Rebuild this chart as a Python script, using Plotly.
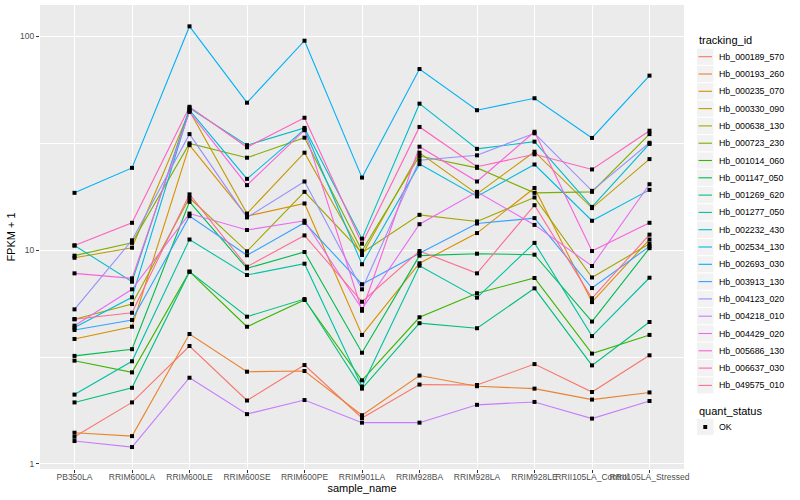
import plotly.graph_objects as go

samples = ["PB350LA", "RRIM600LA", "RRIM600LE", "RRIM600SE", "RRIM600PE", "RRIM901LA",
           "RRIM928BA", "RRIM928LA", "RRIM928LE", "RRII105LA_Control", "RRII105LA_Stressed"]

tracking_ids = ["Hb_000189_570", "Hb_000193_260", "Hb_000235_070", "Hb_000330_090", "Hb_000638_130",
                "Hb_000723_230", "Hb_001014_060", "Hb_001147_050", "Hb_001269_620", "Hb_001277_050",
                "Hb_002232_430", "Hb_002534_130", "Hb_002693_030", "Hb_003913_130", "Hb_004123_020",
                "Hb_004218_010", "Hb_004429_020", "Hb_005686_130", "Hb_006637_030", "Hb_049575_010"]

# FPKM + 1 per sample
hb_000189_570 = [1.34, 1.94, 3.56, 1.98, 2.90, 1.64, 2.35, 2.34, 2.93, 2.17, 3.22]
hb_000193_260 = [1.40, 1.35, 4.05, 2.70, 2.72, 1.69, 2.59, 2.31, 2.25, 2.00, 2.16]
hb_000235_070 = [3.84, 4.38, 30.9, 14.4, 16.5, 4.01, 8.67, 12.0, 19.5, 5.71, 11.2]
hb_000330_090 = [9.20, 10.25, 44.6, 14.8, 28.5, 9.48, 28.5, 18.3, 28.8, 15.7, 26.6]
hb_000638_130 = [4.75, 5.59, 17.5, 9.86, 18.7, 9.71, 14.6, 13.6, 17.6, 7.44, 10.7]
hb_000723_230 = [9.41, 10.8, 31.5, 27.0, 33.5, 9.92, 27.5, 24.2, 18.5, 18.7, 34.8]
hb_001014_060 = [3.04, 2.68, 7.92, 4.38, 5.84, 2.46, 4.85, 6.28, 7.40, 3.28, 4.01]
hb_001147_050 = [3.20, 3.44, 16.8, 8.21, 9.79, 3.31, 9.41, 9.61, 9.51, 4.63, 10.2]
hb_001269_620 = [1.94, 2.27, 7.92, 4.88, 5.90, 2.25, 4.55, 4.31, 6.62, 2.89, 4.61]
hb_001277_050 = [2.11, 3.02, 11.2, 7.64, 8.63, 2.30, 8.45, 5.99, 10.8, 3.96, 7.42]
hb_002232_430 = [10.5, 7.11, 46.1, 30.9, 37.2, 11.3, 48.3, 29.7, 32.1, 15.9, 31.3]
hb_002534_130 = [4.34, 6.01, 45.1, 21.5, 36.6, 8.58, 25.2, 17.8, 25.1, 13.7, 19.1]
hb_002693_030 = [18.5, 24.2, 111.0, 48.8, 95.1, 21.8, 70.1, 45.0, 51.2, 33.4, 65.3]
hb_003913_130 = [4.23, 4.71, 14.4, 9.45, 13.4, 6.92, 9.65, 13.3, 14.1, 6.64, 10.4]
hb_004123_020 = [5.28, 11.1, 34.8, 14.2, 20.9, 6.55, 26.3, 27.7, 35.1, 18.9, 31.7]
hb_004218_010 = [1.28, 1.20, 2.53, 1.71, 1.99, 1.56, 1.56, 1.89, 1.95, 1.63, 1.97]
hb_004429_020 = [4.43, 6.55, 14.8, 12.4, 13.7, 5.30, 13.2, 18.7, 13.1, 8.42, 20.3]
hb_005686_130 = [7.78, 7.37, 44.2, 20.1, 36.3, 5.20, 30.4, 20.9, 35.7, 9.89, 13.4]
hb_006637_030 = [10.5, 13.4, 46.7, 30.2, 41.5, 10.7, 37.6, 24.5, 28.0, 23.8, 36.1]
hb_049575_010 = [4.75, 5.09, 18.2, 8.36, 11.7, 5.73, 9.89, 7.78, 16.2, 5.95, 11.8]

series = [hb_000189_570, hb_000193_260, hb_000235_070, hb_000330_090, hb_000638_130,
          hb_000723_230, hb_001014_060, hb_001147_050, hb_001269_620, hb_001277_050,
          hb_002232_430, hb_002534_130, hb_002693_030, hb_003913_130, hb_004123_020,
          hb_004218_010, hb_004429_020, hb_005686_130, hb_006637_030, hb_049575_010]

quant_status = ["OK"]

colors = ["#F8766D", "#EA8331", "#D89000", "#C09B00", "#A3A500", "#7CAE00", "#39B600", "#00BB4E",
          "#00BF7D", "#00C1A3", "#00BFC4", "#00BAE0", "#00B0F6", "#35A2FF", "#9590FF", "#C77CFF",
          "#E76BF3", "#FA62DB", "#FF62BC", "#FF6C91"]

FONT = "Liberation Sans, Arial, sans-serif"
W, H = 800, 500
ML, MR, MT, MB = 40, 116, 5, 31
PW, PH = W - ML - MR, H - MT - MB


def px(x):
    return (x - ML) / PW


def py(y):
    return (H - MB - y) / PH


fig = go.Figure()
for name, vals, col in zip(tracking_ids, series, colors):
    fig.add_trace(go.Scatter(x=samples, y=vals, mode="lines", name=name, showlegend=False,
                             line=dict(color=col, width=1.1)))

all_x = [s for vals in series for s in samples]
all_y = [v for vals in series for v in vals]
fig.add_trace(go.Scatter(x=all_x, y=all_y, mode="markers", name=quant_status[0], showlegend=False,
                         marker=dict(symbol="square", size=4, color="black")))

# manual ggplot-style legend
shapes, annots = [], []
lx0, lx1 = 697, 713.5
annots.append(dict(text="tracking_id", x=px(697), y=py(40.5), xref="paper", yref="paper",
                   xanchor="left", yanchor="middle", showarrow=False, font=dict(size=11, color="black")))
step = 17.3
for i, (name, col) in enumerate(zip(tracking_ids, colors)):
    cy = 56.7 + step * i
    shapes.append(dict(type="rect", xref="paper", yref="paper", x0=px(lx0), x1=px(lx1),
                       y0=py(cy - 8.1), y1=py(cy + 8.1), fillcolor="#F2F2F2", line=dict(width=0),
                       layer="below"))
    shapes.append(dict(type="line", xref="paper", yref="paper", x0=px(lx0 + 1.5), x1=px(lx1 - 1.5),
                       y0=py(cy), y1=py(cy), line=dict(color=col, width=1.1)))
    annots.append(dict(text=name, x=px(716.5), y=py(cy), xref="paper", yref="paper",
                       xanchor="left", yanchor="middle", showarrow=False,
                       font=dict(size=8.8, color="black")))

annots.append(dict(text="quant_status", x=px(697), y=py(410.5), xref="paper", yref="paper",
                   xanchor="left", yanchor="middle", showarrow=False, font=dict(size=11, color="black")))
qy = 427
shapes.append(dict(type="rect", xref="paper", yref="paper", x0=px(lx0), x1=px(lx1),
                   y0=py(qy - 8.1), y1=py(qy + 8.1), fillcolor="#F2F2F2", line=dict(width=0)))
shapes.append(dict(type="rect", xref="paper", yref="paper", x0=px(703.3), x1=px(707.2),
                   y0=py(qy - 2), y1=py(qy + 2), fillcolor="black", line=dict(width=0)))
annots.append(dict(text=quant_status[0], x=px(716.5), y=py(qy), xref="paper", yref="paper",
                   xanchor="left", yanchor="middle", showarrow=False, font=dict(size=8.8, color="black")))

fig.update_layout(
    width=W, height=H,
    margin=dict(l=ML, r=MR, t=MT, b=MB),
    paper_bgcolor="white", plot_bgcolor="#EBEBEB",
    font=dict(family=FONT, size=9, color="black"),
    showlegend=False,
    xaxis=dict(type="category", categoryorder="array", categoryarray=samples,
               range=[-0.6, 10.6], showgrid=True, gridcolor="white", gridwidth=1.1,
               zeroline=False, ticks="outside", ticklen=3, tickcolor="#333333",
               tickangle=0, tickfont=dict(size=8.5, color="#4D4D4D"), ticklabelstandoff=-3,
               title=dict(text="sample_name", font=dict(size=11), standoff=0),
               showline=False, fixedrange=True),
    yaxis=dict(type="log", range=[-0.0234, 2.145], tickvals=[1, 10, 100], ticktext=["1", "10", "100"],
               showgrid=True, gridcolor="white", gridwidth=1.1, zeroline=False,
               ticks="outside", ticklen=3, tickcolor="#333333",
               tickfont=dict(size=8.5, color="#4D4D4D"),
               minor=dict(tickvals=[3.1623, 31.623], showgrid=True, gridcolor="white",
                          gridwidth=0.5, ticks=""),
               title=dict(text="FPKM + 1", font=dict(size=11), standoff=2),
               showline=False, fixedrange=True),
    shapes=shapes,
    annotations=annots,
)

fig.write_html("out.html", config={"displayModeBar": False},
               post_script="document.body.style.margin='0px';document.body.style.overflow='hidden';")
